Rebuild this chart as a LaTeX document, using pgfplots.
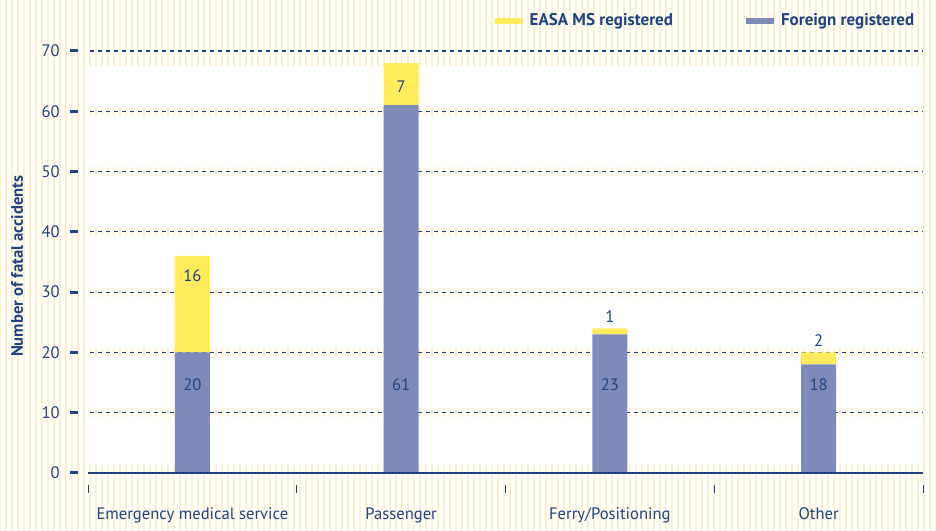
\documentclass[border=0pt]{standalone}
\usepackage{pgfplots}
\pgfplotsset{compat=1.18}
\usepackage{fontspec}
\setmainfont{PT Sans}
\usetikzlibrary{patterns.meta}
\definecolor{navy}{HTML}{1F4282}
\definecolor{barblue}{HTML}{7E8BB8}
\definecolor{baryel}{HTML}{FFEB5C}
\definecolor{stripe}{HTML}{FFF0C8}
\pgfplotsset{base/.style={
  at={(44pt,28.5pt)}, anchor=south west,
  scale only axis, width=417.5pt, height=211pt,
  xmin=-0.5, xmax=3.5, ymin=0, ymax=70, clip=false}}
\begin{document}
\begin{tikzpicture}
\fill[white] (0,0) rectangle (468pt,265pt);
\fill[pattern={Lines[angle=90,distance=3pt,line width=1.4pt]},pattern color=stripe] (0,0) rectangle (468pt,265pt);
% background axis: white area, bands, grid
\begin{axis}[base, hide axis]
\fill[white] (axis cs:-0.5,0) rectangle (axis cs:3.5,70);
\fill[pattern={Lines[angle=90,distance=3pt,line width=1.4pt]},pattern color=stripe]
  (axis cs:-0.5,67.6) rectangle (axis cs:3.5,70.6);
\pgfplotsinvokeforeach{10,20,30,40,50,60}{
  \fill[pattern={Lines[angle=90,distance=3pt,line width=1.4pt]},pattern color=stripe]
    (axis cs:-0.5,#1-0.65) rectangle (axis cs:3.5,#1+0.65);
}
\fill[pattern={Lines[angle=90,distance=3pt,line width=1.4pt]},pattern color=stripe]
  (axis cs:-0.5,0) rectangle (axis cs:3.5,1.2);
\pgfplotsinvokeforeach{10,20,30,40,50,60,70}{
  \draw[navy, line width=0.6pt, dash pattern=on 2pt off 2pt] (axis cs:-0.49,#1) -- (axis cs:3.5,#1);
}
\end{axis}
% bars axis
\begin{axis}[base,
  axis line style={draw=none},
  /pgf/number format/assume math mode=true,
  ybar stacked, bar width=17.5pt,
  xtick={0,1,2,3},
  xticklabels={Emergency medical service,Passenger,Ferry/Positioning,Other},
  xticklabel style={font=\fontsize{8.3}{10}\selectfont, text=navy, yshift=-14pt},
  ytick={0,10,...,70},
  yticklabel style={font=\fontsize{8.3}{10}\selectfont, text=navy, inner sep=0pt, xshift=-14pt},
  major tick length=0pt,
  ylabel={\bfseries Number of fatal accidents},
  ylabel style={font=\fontsize{8.3}{10}\selectfont, text=navy, at={(axis description cs:-0.085,0.49)}, anchor=center},
  legend columns=2,
  legend style={draw=none, fill=none, at={(axis description cs:1.002,1.0)}, anchor=south east, yshift=7pt,
    font=\fontsize{8.5}{10}\selectfont\bfseries, text=navy,
    /tikz/every even column/.append style={column sep=33pt}},
]
\addlegendimage{line width=3pt, baryel, legend image code/.code={\draw[line width=3pt,baryel] (0pt,0pt) -- (14pt,0pt);}}
\addlegendentry{EASA MS registered}
\addlegendimage{line width=3pt, barblue, legend image code/.code={\draw[line width=3pt,barblue] (0pt,0pt) -- (14pt,0pt);}}
\addlegendentry{Foreign registered}
\addplot[fill=barblue, draw=none, forget plot] coordinates {(0,20) (1,61) (2,23) (3,18)};
\addplot[fill=baryel, draw=none, forget plot] coordinates {(0,16) (1,7) (2,1) (3,2)};
\end{axis}
% foreground axis: value labels, baseline, ticks
\begin{axis}[base, hide axis,
  nodes near coords, point meta=explicit symbolic,
  every node near coord/.append style={font=\fontsize{8.3}{10}\selectfont, text=navy, anchor=center},
]
\draw[navy, line width=1.2pt] (axis cs:-0.5,0) -- (axis cs:3.5,0);
\pgfplotsinvokeforeach{-0.5,0.5,1.5,2.5,3.5}{
  \draw[navy, line width=0.5pt] ([yshift=-6pt]axis cs:#1,0) -- ([yshift=-10pt]axis cs:#1,0);
}
\pgfplotsinvokeforeach{0,10,20,30,40,50,60,70}{
  \draw[navy, line width=1.5pt] ([xshift=-5pt]axis cs:-0.5,#1) -- ([xshift=-9pt]axis cs:-0.5,#1);
}
\addplot[draw=none, mark=none] coordinates {(0,14.6)[20] (1,14.6)[61] (2,14.6)[23] (3,14.6)[18]};
\addplot[draw=none, mark=none] coordinates {(0,32.8)[16] (1,64.1)[7] (2,25.9)[1] (3,21.9)[2]};
\end{axis}
\end{tikzpicture}
\end{document}
